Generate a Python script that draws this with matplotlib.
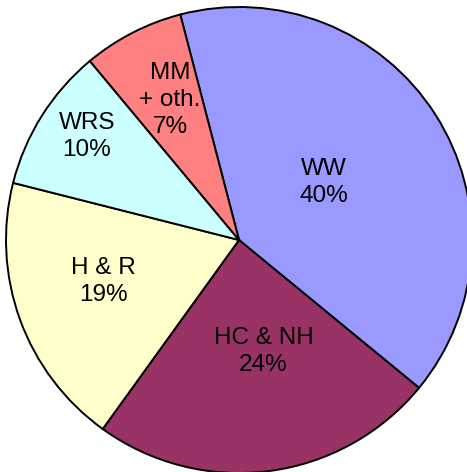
import numpy as np
import matplotlib
matplotlib.use('Agg')
import matplotlib.pyplot as plt

plt.rcParams['font.family'] = ['Liberation Sans', 'DejaVu Sans']

labels = ['WW', 'HC & NH', 'H & R', 'WRS', 'MM\n+ oth.']
shares = [40, 24, 19, 10, 7]
colors = ['#9999FF', '#993366', '#FFFFCC', '#CCFFFF', '#FF8080']
# label placement (fraction of radius, angle shift in degrees)
label_r = [0.44, 0.49, 0.61, 0.79, 0.67]
label_shift = [1.5, 5.0, -3.0, -2.0, -1.0]

fig = plt.figure(figsize=(4.67, 4.72), dpi=100)
ax = fig.add_axes([6 / 467, -1 / 472, 466 / 467, 466 / 472])

wedges, _ = ax.pie(shares, colors=colors, startangle=104.6, counterclock=False,
                   radius=1.0, wedgeprops=dict(edgecolor='black', linewidth=1.4))

for w, lab, val, r, s in zip(wedges, labels, shares, label_r, label_shift):
    mid = np.deg2rad((w.theta1 + w.theta2) / 2 + s)
    ax.text(r * np.cos(mid), r * np.sin(mid), f'{lab}\n{val}%',
            ha='center', va='center', fontsize=17.5, linespacing=1.3)

ax.set_xlim(-1, 1)
ax.set_ylim(-1, 1)
ax.set_aspect('equal')
ax.axis('off')

fig.savefig('out.png', dpi=100)
